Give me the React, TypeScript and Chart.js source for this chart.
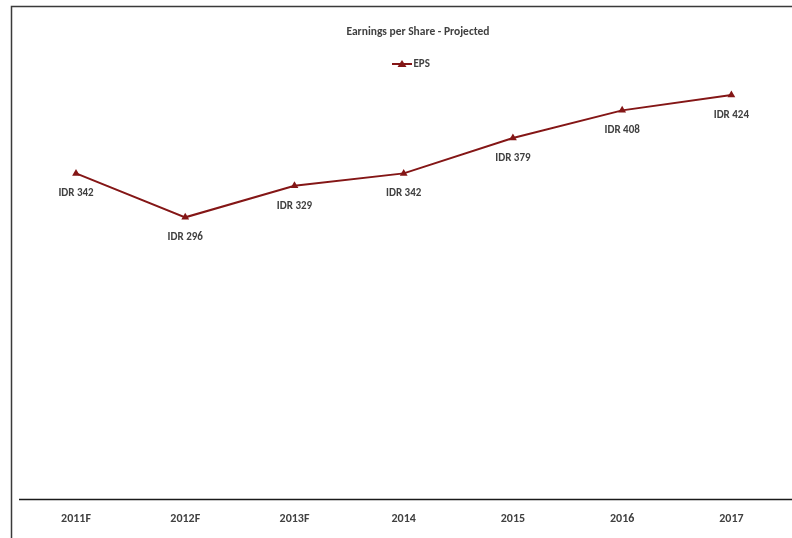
import React, { useEffect, useRef } from "react";
import { Chart, registerables } from "chart.js";

Chart.register(...registerables);

const categories = ["2011F", "2012F", "2013F", "2014", "2015", "2016", "2017"];
const epsValues = [342, 296, 329, 342, 379, 408, 424];
const seriesName = "EPS";
const chartTitle = "Earnings per Share - Projected";
const labelPrefix = "IDR ";

const FONT = "Carlito, 'Liberation Sans Narrow', Lato, 'Open Sans', sans-serif";
const LINE_COLOR = "#841616";
const TEXT_COLOR = "#404040";

const decorPlugin = {
  id: "decor",
  afterDraw(chart: any) {
    const ctx = chart.ctx;
    const area = chart.chartArea;
    const w = chart.width;
    const h = chart.height;
    ctx.save();
    // outer frame
    ctx.strokeStyle = "#3a3a3a";
    ctx.lineWidth = 1.5;
    ctx.beginPath();
    ctx.moveTo(11.5, h + 2);
    ctx.lineTo(11.5, 6.5);
    ctx.lineTo(w + 2, 6.5);
    ctx.stroke();
    // axis line
    ctx.strokeStyle = "#1a1a1a";
    ctx.lineWidth = 1.5;
    ctx.beginPath();
    ctx.moveTo(19, area.bottom - 0.5);
    ctx.lineTo(w, area.bottom - 0.5);
    ctx.stroke();
    // title
    ctx.fillStyle = TEXT_COLOR;
    ctx.font = `bold 11.5px ${FONT}`;
    ctx.textAlign = "center";
    ctx.textBaseline = "middle";
    ctx.fillText(chartTitle, 418, 32);
    // legend
    const ly = 64;
    ctx.strokeStyle = LINE_COLOR;
    ctx.lineWidth = 2;
    ctx.beginPath();
    ctx.moveTo(392, ly);
    ctx.lineTo(412, ly);
    ctx.stroke();
    ctx.fillStyle = LINE_COLOR;
    ctx.beginPath();
    ctx.moveTo(402, ly - 4);
    ctx.lineTo(406.5, ly + 3);
    ctx.lineTo(397.5, ly + 3);
    ctx.closePath();
    ctx.fill();
    ctx.fillStyle = TEXT_COLOR;
    ctx.textAlign = "left";
    ctx.font = `bold 11px ${FONT}`;
    ctx.fillText(seriesName, 413.5, ly);
    // data labels
    const meta = chart.getDatasetMeta(0);
    ctx.textAlign = "center";
    ctx.font = `bold 11px ${FONT}`;
    meta.data.forEach((pt: any, i: number) => {
      ctx.fillText(labelPrefix + epsValues[i], pt.x, pt.y + 20);
    });
    ctx.restore();
  },
};

export default function App() {
  const ref = useRef<HTMLCanvasElement | null>(null);
  useEffect(() => {
    document.body.style.margin = "0";
    const chart = new Chart(ref.current as HTMLCanvasElement, {
      type: "line",
      data: {
        labels: categories,
        datasets: [
          {
            label: seriesName,
            data: epsValues,
            borderColor: LINE_COLOR,
            backgroundColor: LINE_COLOR,
            borderWidth: 2,
            pointStyle: "triangle",
            pointRadius: 4.5,
            pointBorderWidth: 0,
            tension: 0,
          },
        ],
      },
      options: {
        animation: false,
        responsive: false,
        layout: { padding: { left: 21.4, right: 6, top: 22.5, bottom: 0 } },
        plugins: {
          legend: { display: false },
          title: { display: false },
          tooltip: { enabled: false },
        },
        scales: {
          x: {
            offset: true,
            grid: { display: false },
            border: { display: false },
            ticks: {
              color: TEXT_COLOR,
              font: { family: FONT, size: 12, weight: "bold" },
              padding: 4,
              maxRotation: 0,
            },
            afterFit(scale: any) {
              scale.height = 38;
            },
          },
          y: {
            display: false,
            min: 0,
            max: 500,
          },
        },
      },
      plugins: [decorPlugin],
    } as any);
    return () => chart.destroy();
  }, []);
  return (
    <div style={{ position: "fixed", left: 0, top: 0, width: 792, height: 538, background: "#fff" }}>
      <canvas ref={ref} width={792} height={538} style={{ display: "block" }} />
    </div>
  );
}
